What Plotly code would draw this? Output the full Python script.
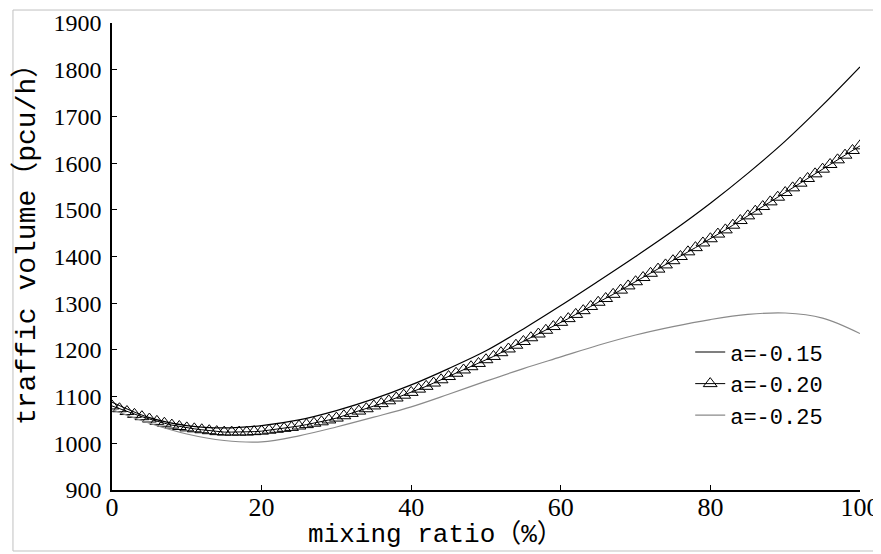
import plotly.graph_objects as go

# ---- data ----
x_line = [0, 5, 10, 15, 20, 25, 30, 35, 40, 45, 50, 55, 60, 65, 70, 75, 80, 85, 90, 95, 100]
a015 = [1088, 1055, 1038, 1033, 1038, 1050, 1070, 1095, 1125, 1160, 1198, 1245, 1295, 1347, 1400,
        1455, 1514, 1578, 1647, 1724, 1806]
a025 = [1072, 1043, 1020, 1006, 1003, 1016, 1035, 1056, 1078, 1105, 1133, 1160, 1185, 1210, 1232,
        1250, 1265, 1276, 1279, 1268, 1235]

x_tri = list(range(0, 101))
a020 = [1080, 1074, 1068, 1062, 1057, 1052, 1047, 1043, 1039, 1036,
        1033, 1031, 1029, 1027, 1025, 1024, 1024, 1024, 1024, 1025,
        1026, 1028, 1030, 1032, 1034, 1037, 1040, 1043, 1046, 1050,
        1054, 1059, 1064, 1069, 1074, 1080, 1085, 1091, 1097, 1103,
        1109, 1116, 1122, 1129, 1136, 1143, 1150, 1157, 1164, 1171,
        1179, 1186, 1194, 1202, 1210, 1218, 1226, 1234, 1242, 1250,
        1259, 1267, 1276, 1284, 1293, 1302, 1310, 1319, 1328, 1337,
        1346, 1355, 1364, 1373, 1382, 1391, 1400, 1410, 1419, 1429,
        1438, 1448, 1457, 1467, 1477, 1487, 1497, 1507, 1517, 1527,
        1537, 1547, 1557, 1567, 1577, 1587, 1597, 1607, 1617, 1627, 1637]

labels = ["a=-0.15", "a=-0.20", "a=-0.25"]
x_ticks = [0, 20, 40, 60, 80, 100]
y_ticks = [900, 1000, 1100, 1200, 1300, 1400, 1500, 1600, 1700, 1800, 1900]
x_title = "mixing ratio（%）"
y_title = "traffic volume（pcu/h）"

fig = go.Figure()
fig.add_trace(go.Scatter(x=x_line, y=a015, mode="lines", name=labels[0],
                         line=dict(color="black", width=1.2, shape="spline")))
fig.add_trace(go.Scatter(x=x_tri, y=a020, mode="lines+markers", name=labels[1],
                         line=dict(color="black", width=1),
                         marker=dict(symbol="triangle-up-open", size=12,
                                     color="black", line=dict(width=1, color="black"))))
fig.add_trace(go.Scatter(x=x_line, y=a025, mode="lines", name=labels[2],
                         line=dict(color="#8a8a8a", width=1.2, shape="spline")))

serif = "Liberation Serif"
mono = "Liberation Mono, Noto Sans CJK SC"

# the page adds an 8 px body margin, so the figure is sized/margined to compensate
fig.update_layout(
    width=873, height=546,
    margin=dict(l=104, r=21, t=15, b=64, autoexpand=False),
    paper_bgcolor="white", plot_bgcolor="white",
    showlegend=True,
    legend=dict(x=0.773, y=0.340, xanchor="left", yanchor="top",
                bgcolor="rgba(0,0,0,0)", borderwidth=0,
                font=dict(family=mono, size=22, color="black"),
                tracegroupgap=0),
    xaxis=dict(range=[0, 100], tickvals=x_ticks, ticktext=[str(v) for v in x_ticks],
               automargin=False,
               showgrid=False, zeroline=False, showline=True, linecolor="black", linewidth=1.5,
               ticks="inside", ticklen=5, tickcolor="black", tickwidth=1,
               ticklabelstandoff=-7,
               tickfont=dict(family=serif, size=26, color="black")),
    yaxis=dict(range=[900, 1900], tickvals=y_ticks, ticktext=[str(v) for v in y_ticks],
               automargin=False,
               showgrid=False, zeroline=False, showline=True, linecolor="black", linewidth=1.5,
               ticks="inside", ticklen=5, tickcolor="black", tickwidth=1,
               ticklabelstandoff=4,
               tickfont=dict(family=serif, size=24, color="black")),
    annotations=[
        dict(text=x_title, xref="paper", yref="paper", x=(435 - 112) / 748, y=(490 - 535) / 467,
             xanchor="center", yanchor="middle", showarrow=False,
             font=dict(family=mono, size=26, color="black")),
        dict(text=y_title, xref="paper", yref="paper", x=(26 - 112) / 748, y=(490 - 238) / 467,
             xanchor="center", yanchor="middle", showarrow=False, textangle=-90,
             font=dict(family=mono, size=28, color="black")),
    ],
    shapes=[dict(type="rect", xref="paper", yref="paper",
                 x0=-0.1324, x1=1.0227, y0=-0.1306, y1=1.0278,
                 line=dict(color="#c0c0c0", width=1), fillcolor="rgba(0,0,0,0)", layer="below")],
)

fig.write_html("out.html")
